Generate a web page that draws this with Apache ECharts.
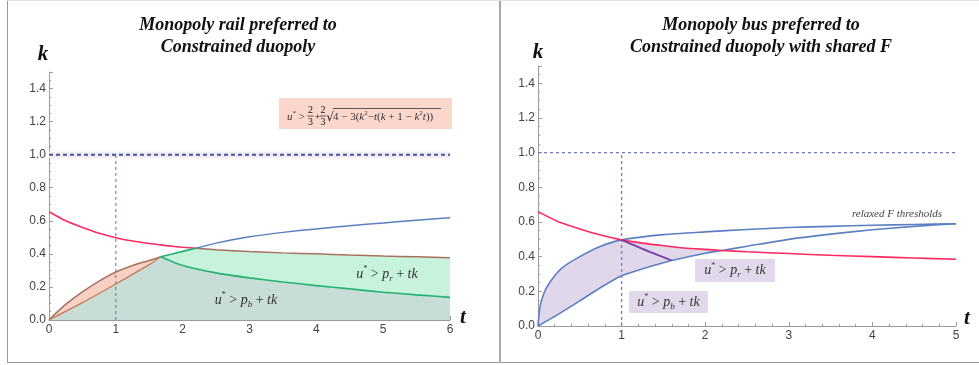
<!DOCTYPE html>
<html><head><meta charset="utf-8">
<script src="https://cdn.jsdelivr.net/npm/echarts@6/dist/echarts.min.js"></script>
<style>html,body{margin:0;padding:0;background:#fff}#c{width:979px;height:365px}</style>
</head><body><div id="c"></div>
<script>
// ---------- DATA ----------
// Left panel: Monopoly rail preferred to Constrained duopoly
var L_tBlue  = [0, 0.1, 0.25, 0.5, 0.75, 1, 1.25, 1.5, 1.67, 2, 2.2, 2.5, 3, 3.5, 4, 4.5, 5, 5.5, 6];
var L_kBlue  = [0, 0.04, 0.095, 0.17, 0.235, 0.29, 0.33, 0.36, 0.383, 0.415, 0.434, 0.465, 0.503, 0.53, 0.551, 0.57, 0.587, 0.603, 0.618];
var L_tRed   = [0, 0.25, 0.5, 0.75, 1, 1.25, 1.5, 1.75, 2, 2.2, 2.5, 3, 3.5, 4, 4.5, 5, 5.5, 6];
var L_kRed   = [0.655, 0.60, 0.56, 0.525, 0.498, 0.478, 0.463, 0.45, 0.44, 0.434, 0.425, 0.414, 0.406, 0.4, 0.393, 0.387, 0.382, 0.377];
var L_tLine  = [0, 0.5, 1, 1.5, 1.67];
var L_kLine  = [0, 0.105, 0.218, 0.335, 0.383];
var L_tGreen = [1.67, 2, 2.5, 3, 3.5, 4, 4.5, 5, 5.5, 6];
var L_kGreen = [0.383, 0.33, 0.285, 0.255, 0.23, 0.208, 0.188, 0.168, 0.152, 0.137];
var L_tKink = 1.67, L_tCross = 2.2, L_tMax = 6;

// Right panel: Monopoly bus preferred to Constrained duopoly with shared F
var R_tUpper = [0, 0.02, 0.05, 0.1, 0.2, 0.3, 0.5, 0.75, 1, 1.5, 2, 2.5, 3, 3.5, 4, 4.5, 5];
var R_kUpper = [0, 0.1, 0.16, 0.22, 0.29, 0.34, 0.40, 0.46, 0.497, 0.527, 0.543, 0.557, 0.568, 0.575, 0.581, 0.586, 0.59];
var R_tLower = [0, 0.25, 0.5, 0.75, 1, 1.25, 1.5, 1.6, 2, 2.2, 2.5, 3, 3.5, 4, 4.5, 5];
var R_kLower = [0, 0.07, 0.145, 0.222, 0.29, 0.33, 0.365, 0.378, 0.42, 0.436, 0.46, 0.5, 0.53, 0.555, 0.575, 0.59];
var R_tRed   = [0, 0.25, 0.5, 0.75, 1, 1.25, 1.5, 1.75, 2, 2.2, 2.5, 3, 3.5, 4, 4.5, 5];
var R_kRed   = [0.66, 0.6, 0.56, 0.525, 0.497, 0.478, 0.463, 0.45, 0.442, 0.436, 0.428, 0.418, 0.408, 0.4, 0.392, 0.385];
var R_tPurple = [1, 1.3, 1.6];
var R_kPurple = [0.497, 0.435, 0.378];
var R_tMeet = 1, R_tCross = 2.2, R_tMax = 5;

// reference lines
var hLineK = 1.0, vLineT = 1;
var yTicks = [0, 0.2, 0.4, 0.6, 0.8, 1.0, 1.2, 1.4];

// ---------- helpers ----------
function zip(ts, ks){ return ts.map(function(t,i){ return [t, ks[i]]; }); }
function seg(pts, a, b){ return pts.filter(function(p){ return p[0] >= a - 1e-9 && p[0] <= b + 1e-9; }); }

var LB = zip(L_tBlue, L_kBlue), LR = zip(L_tRed, L_kRed), LL = zip(L_tLine, L_kLine), LG = zip(L_tGreen, L_kGreen);
var RU = zip(R_tUpper, R_kUpper), RL = zip(R_tLower, R_kLower), RR = zip(R_tRed, R_kRed), RP = zip(R_tPurple, R_kPurple);

function poly(ai, pts, fill, stroke, z){
  return {type:'custom', xAxisIndex:ai, yAxisIndex:ai, z:z, silent:true, animation:false,
    data:[pts[0]], clip:true,
    renderItem:function(params, api){
      return {type:'polygon', shape:{points: pts.map(function(p){ return api.coord(p); })},
        style:{fill:fill, stroke:stroke || 'none', lineWidth:1.3}};
    }};
}
function line(ai, pts, color, width, dash, z, smooth){
  return {type:'line', xAxisIndex:ai, yAxisIndex:ai, data:pts, showSymbol:false, symbol:'none',
    smooth:(smooth === undefined ? 0.2 : smooth), silent:true, animation:false, z:z||3,
    lineStyle:{color:color, width:width, type:dash||'solid'}};
}
function xAx(gi, max){
  return {type:'value', gridIndex:gi, min:0, max:max, interval:1,
    axisLine:{onZero:false, lineStyle:{color:'#9a9a9a', width:1}},
    axisTick:{inside:true, length:4, lineStyle:{color:'#9a9a9a'}},
    minorTick:{show:true, splitNumber:5, length:2, lineStyle:{color:'#9a9a9a'}},
    splitLine:{show:false}, minorSplitLine:{show:false},
    axisLabel:{color:'#444', fontSize:12, fontFamily:'Liberation Sans', margin:4}};
}
function yAx(gi){
  return {type:'value', gridIndex:gi, min:0, max:1.5, interval:0.2,
    axisLine:{show:true, onZero:false, lineStyle:{color:'#9a9a9a', width:1}},
    axisTick:{show:true, inside:true, length:4, lineStyle:{color:'#9a9a9a'}},
    minorTick:{show:true, splitNumber:4, length:2, lineStyle:{color:'#9a9a9a'}},
    splitLine:{show:false}, minorSplitLine:{show:false},
    axisLabel:{color:'#444', fontSize:12, fontFamily:'Liberation Sans', margin:3,
      formatter:function(v){
        for (var i=0;i<yTicks.length;i++){ if (Math.abs(yTicks[i]-v)<1e-6) return yTicks[i].toFixed(1); }
        return '';
      }}};
}

var RED = '#ff2a5f', BLUE = '#5b80c2', GREEN = '#22b373', BROWN = '#a8705f';

var series = [];
// ---- left panel ----
series.push(poly(0, [[0,0]].concat(LL, LG.slice(1), [[L_tMax,0]]), '#c9ddd7', null, 1));
series.push(poly(0, seg(LB, L_tKink, L_tCross).concat(seg(LR, L_tCross, L_tMax), LG.slice().reverse()), '#c7f2dc', null, 1));
series.push(poly(0, seg(LB, 0, L_tKink).concat(LL.slice().reverse()), '#f9d0c4', null, 1));
series.push(line(0, [[0,hLineK],[L_tMax,hLineK]], '#ececf3', 6, 'solid', 2, false));
series.push(line(0, [[0,hLineK],[L_tMax,hLineK]], '#50509c', 2, [4,3], 3, false));
series.push(line(0, [[vLineT,0],[vLineT,hLineK]], '#6666cc', 1, [3,3], 3, false));
series.push(line(0, seg(LR, 0, L_tCross), RED, 1.6));
series.push(line(0, seg(LR, L_tCross, L_tMax), BROWN, 1.5));
series.push(line(0, seg(LB, L_tCross, L_tMax), BLUE, 1.5));
series.push(line(0, seg(LB, 0, L_tKink), BROWN, 1.5));
series.push(line(0, LL, '#c27d58', 1.3));
series.push(line(0, seg(LB, L_tKink, L_tCross), GREEN, 1.6));
series.push(line(0, LG, GREEN, 1.6));

// ---- right panel ----
series.push(poly(1, seg(RU, 0, R_tMeet).concat(seg(RR, R_tMeet, R_tCross), seg(RL, 0, R_tCross).reverse()), '#e1d7eb', null, 1));
series.push(line(1, [[0,hLineK],[R_tMax,hLineK]], '#7474c8', 1.4, [3,3], 3, false));
series.push(line(1, [[vLineT,0],[vLineT,hLineK]], '#7c7cd0', 1.4, [3,3], 3, false));
series.push(line(1, RU, BLUE, 1.6));
series.push(line(1, RL, BLUE, 1.6));
series.push(line(1, RR, RED, 1.6));
series.push(line(1, RP, '#7a3fa8', 1.8));

// ---------- annotations ----------
function lab(x, y, sub, fs){
  return {type:'text', x:x, y:y, silent:true, z:10, style:{
    text:'{i|u}{sp|*}{n| > }{i|p}{sb|' + sub + '}{n| + }{i|tk}', align:'center', verticalAlign:'middle',
    rich:{
      i:{fontFamily:'Liberation Serif', fontStyle:'italic', fontSize:fs, lineHeight:18, fill:'#333'},
      n:{fontFamily:'Liberation Serif', fontSize:fs, lineHeight:18, fill:'#333'},
      sp:{fontFamily:'Liberation Serif', fontSize:8, lineHeight:13, verticalAlign:'top', fill:'#333'},
      sb:{fontFamily:'Liberation Serif', fontStyle:'italic', fontSize:9, lineHeight:9, verticalAlign:'bottom', fill:'#333'}
    }}};
}
function txt(x, y, s, font, align){
  return {type:'text', x:x, y:y, silent:true, z:10, style:{text:s, font:font, fill:'#111', align:align||'center', verticalAlign:'middle'}};
}
var TF = 'italic bold 18px "Liberation Serif"';
var KF = 'italic bold 21px "Liberation Serif"';
var fF = '10px "Liberation Serif"';
var graphic = [
  {type:'line', silent:true, shape:{x1:7.5,y1:0,x2:7.5,y2:363}, style:{stroke:'#9a9a9a', lineWidth:1}},
  {type:'line', silent:true, shape:{x1:7,y1:362.5,x2:979,y2:362.5}, style:{stroke:'#9a9a9a', lineWidth:1}},
  {type:'line', silent:true, shape:{x1:500,y1:0,x2:500,y2:363}, style:{stroke:'#a8a8a8', lineWidth:2}},
  {type:'line', silent:true, shape:{x1:7,y1:0.5,x2:979,y2:0.5}, style:{stroke:'#e2e2e2', lineWidth:1}},
  txt(238, 25, 'Monopoly rail preferred to', TF),
  txt(238, 47, 'Constrained duopoly', TF),
  txt(761, 25, 'Monopoly bus preferred to', TF),
  txt(761, 47, 'Constrained duopoly with shared F', TF),
  txt(43, 55, 'k', KF), txt(538, 53, 'k', KF),
  txt(463, 318, 't', KF), txt(967, 319, 't', KF),
  {type:'rect', silent:true, z:9, shape:{x:279,y:98,width:173,height:31}, style:{fill:'#fbd6cc'}},
  {type:'text', x:287, y:117, silent:true, z:10, style:{text:'{i|u}{sp|*}{n| >}', align:'left', verticalAlign:'middle',
    rich:{i:{fontFamily:'Liberation Serif', fontStyle:'italic', fontSize:11, lineHeight:14, fill:'#333'},
          n:{fontFamily:'Liberation Serif', fontSize:11, lineHeight:14, fill:'#333'},
          sp:{fontFamily:'Liberation Serif', fontSize:7, lineHeight:10, verticalAlign:'top', fill:'#333'}}}},
  txt(310.5, 110.5, '2', fF), txt(310.5, 122, '3', fF),
  {type:'line', silent:true, z:10, shape:{x1:307.5,y1:116,x2:313.5,y2:116}, style:{stroke:'#333', lineWidth:0.8}},
  txt(317.5, 117, '+', fF),
  txt(323, 110.5, '2', fF), txt(323, 122, '3', fF),
  {type:'line', silent:true, z:10, shape:{x1:320,y1:116,x2:326,y2:116}, style:{stroke:'#333', lineWidth:0.8}},
  txt(330, 118, '\u221A', '12px "DejaVu Serif"'),
  {type:'line', silent:true, z:10, shape:{x1:333,y1:108.5,x2:441,y2:108.5}, style:{stroke:'#333', lineWidth:0.8}},
  {type:'text', x:333, y:117, silent:true, z:10, style:{
    text:'{n|4 \u2212 3(}{i|k}{sp|2}{n|\u2212}{i|t}{n|(}{i|k}{n| + 1 \u2212 }{i|k}{sp|2}{i|t}{n|))}', align:'left', verticalAlign:'middle',
    rich:{i:{fontFamily:'Liberation Serif', fontStyle:'italic', fontSize:11, lineHeight:14, fill:'#333'},
          n:{fontFamily:'Liberation Serif', fontSize:11, lineHeight:14, fill:'#333'},
          sp:{fontFamily:'Liberation Serif', fontSize:7, lineHeight:10, verticalAlign:'top', fill:'#333'}}}},
  lab(387, 274, 'r', 14),
  lab(246, 300, 'b', 14),
  {type:'rect', silent:true, z:9, shape:{x:695,y:259,width:80,height:23}, style:{fill:'#e2d8ec'}},
  {type:'rect', silent:true, z:9, shape:{x:629,y:291,width:79,height:22}, style:{fill:'#e2d8ec'}},
  lab(735, 270.5, 'r', 14),
  lab(668.5, 302, 'b', 14),
  {type:'text', x:897, y:214, silent:true, z:10, style:{text:'relaxed F thresholds', font:'italic 11px "Liberation Serif"', fill:'#444', align:'center', verticalAlign:'middle'}}
];

var chart = echarts.init(document.getElementById('c'), null, {renderer:'canvas'});
chart.setOption({
  animation:false,
  backgroundColor:'#ffffff',
  grid:[
    {left:49, top:72, width:401, height:248},
    {left:538, top:66, width:418, height:260}
  ],
  xAxis:[xAx(0, L_tMax), xAx(1, R_tMax)],
  yAxis:[yAx(0), yAx(1)],
  series: series,
  graphic: graphic
});
</script></body></html>
